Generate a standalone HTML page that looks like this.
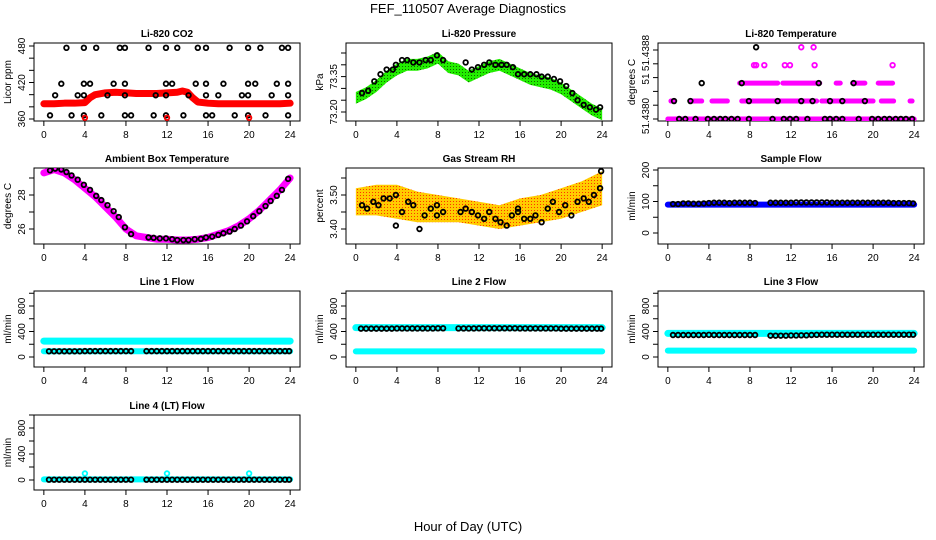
<!DOCTYPE html>
<html><head><meta charset="utf-8"><style>
html,body{margin:0;padding:0;background:#fff}
svg{display:block;font-family:"Liberation Sans",Arial,sans-serif}
</style></head><body>
<svg id="chart" width="936" height="540" viewBox="0 0 936 540">
<defs>
<pattern id="rhpat" width="3" height="3" patternUnits="userSpaceOnUse"><rect width="3" height="3" fill="#ffcc00"/><rect width="1" height="1" fill="#ff3300"/></pattern>
<pattern id="grpat" width="3" height="3" patternUnits="userSpaceOnUse"><rect width="3" height="3" fill="#22ee00"/><rect width="1" height="1" fill="#116600"/></pattern>
</defs>
<text x="468" y="13" text-anchor="middle" font-size="13">FEF_110507  Average Diagnostics</text>
<text x="468" y="531" text-anchor="middle" font-size="13">Hour of Day (UTC)</text>
</svg>
<script>
// ---- data ----
const xTicks=[0,4,8,12,16,20,24];
const co2BandX=[0,1,2,3,4,4.5,5,6,7,8,9,10,11,12,13,13.5,14,14.5,15,16,17,18,19,20,21,22,23,24];
const co2BandY=[385,385,386,386,387,395,400,403,404,403,402,402,402,403,404,406,404,395,388,386,385,385,385,385,385,385,385,386];
const co2CircX=[2.2,3.9,5.1,7.4,7.9,10.2,11.9,13,15,15.8,18.1,19.9,21.1,23.2,23.8,1.7,3.9,4.5,6.8,7.9,11.9,12.5,14.8,15.8,17.5,19.9,20.6,22.7,23.8,1.1,3.3,3.9,6.2,7.9,10.9,11.9,14.1,15.8,17,19.3,19.9,22.2,23.8,0.6,2.7,3.9,5.6,7.9,8.5,10.7,11.9,13.6,15.8,16.4,18.6,19.9,21.6,23.8];
const co2CircY=[477,477,477,477,477,477,477,477,477,477,477,477,477,477,477,418,418,418,418,418,418,418,418,418,418,418,418,418,418,399,399,399,399,399,399,399,399,399,399,399,399,399,399,366,366,366,366,366,366,366,366,366,366,366,366,366,366,366];
const co2RedX=[4,12,20];
const co2RedY=[362,362,362];

const presBandX=[0,1,2,3,4,5,6,7,8,9,10,11,12,13,14,15,16,17,18,19,20,21,22,23,24];
const presBandY=[73.26,73.28,73.31,73.35,73.38,73.40,73.40,73.41,73.43,73.39,73.38,73.35,73.37,73.39,73.40,73.38,73.36,73.34,73.33,73.32,73.30,73.27,73.24,73.21,73.19];
const presCircX=[0.6,1.2,1.8,2.4,3,3.6,3.9,4.5,5,5.6,6.2,6.8,7.3,7.9,8.5,10.7,11.3,11.9,12.5,13,13.6,14.2,14.7,15.3,15.8,16.4,17,17.6,18.1,18.7,19.3,19.9,20.5,21.1,21.6,22.2,22.8,23.4,23.8];
const presCircY=[73.28,73.29,73.33,73.36,73.38,73.38,73.40,73.42,73.42,73.41,73.41,73.42,73.42,73.44,73.42,73.41,73.38,73.39,73.40,73.41,73.40,73.40,73.40,73.39,73.36,73.36,73.36,73.36,73.35,73.35,73.34,73.33,73.31,73.28,73.25,73.23,73.22,73.21,73.22];

const tempLevels=[51.4380,51.43826,51.43852,51.43878,51.43904];
const tempPinkSegStart=[0,0.3,2.2,4.3,7.2,15,20.8,23.6,7,11.2,16.4,18,20.5];
const tempPinkSegEnd=[24,0.6,3.3,5.8,14.5,20,22,23.8,10.7,14.8,16.8,19.2,21.9];
const tempPinkSegLevel=[0,1,1,1,1,1,1,1,2,2,2,2,2];
const tempPinkPtX=[8.4,8.6,9.4,11.4,11.9,14.3,21.9,13,14.2];
const tempPinkPtLevel=[3,3,3,3,3,3,3,4,4];
const tempBlackX=[1.1,1.7,2.7,3.9,4.5,5.1,5.6,6.2,6.8,7.9,10.2,11.3,11.9,12.5,13.6,15.3,15.8,16.4,17,18.6,19.9,20.5,21.1,21.6,22.2,22.7,23.2,23.8,0.6,2.2,7.9,10.7,13,14.1,15.8,17,19.2,3.3,7.2,14.7,18.1,8.6];
const tempBlackLevel=[0,0,0,0,0,0,0,0,0,0,0,0,0,0,0,0,0,0,0,0,0,0,0,0,0,0,0,0,1,1,1,1,1,1,1,1,1,2,2,2,2,4];

const ambX=[0,1,2,3,4,5,6,7,8,9,10,11,12,13,14,15,16,17,18,19,20,21,22,23,24];
const ambY=[29.3,29.5,29.3,28.9,28.4,27.9,27.3,26.7,26.0,25.6,25.5,25.4,25.4,25.35,25.35,25.4,25.5,25.7,25.9,26.2,26.6,27.1,27.7,28.3,29.0];
const ambCircX=[0.6,1.1,1.7,2.2,2.7,3.3,3.9,4.5,5.1,5.6,6.2,6.8,7.3,7.9,8.5,10.2,10.7,11.3,11.9,12.5,13,13.6,14.1,14.7,15.3,15.8,16.4,17,17.5,18.1,18.6,19.2,19.8,20.4,21,21.6,22.1,22.7,23.2,23.8];
const ambCircY=[29.45,29.55,29.5,29.35,29.15,28.9,28.6,28.3,27.95,27.7,27.4,27.05,26.7,26.1,25.7,25.5,25.48,25.45,25.45,25.4,25.35,25.35,25.35,25.4,25.42,25.5,25.55,25.65,25.75,25.85,26,26.2,26.45,26.75,27.05,27.35,27.65,27.95,28.3,28.95];

const rhX=[0,2,4,6,8,10,12,14,16,18,20,22,24];
const rhLow=[3.44,3.44,3.43,3.42,3.42,3.42,3.41,3.40,3.41,3.42,3.43,3.45,3.47];
const rhHigh=[3.52,3.53,3.53,3.51,3.50,3.49,3.48,3.47,3.49,3.50,3.52,3.54,3.57];
const rhCircX=[0.6,1.1,1.7,2.2,2.7,3.3,3.9,3.9,4.5,5.1,5.6,6.2,6.7,7.3,7.9,7.9,8.5,10.2,10.7,11.3,11.9,12.5,13,13.6,14.1,14.7,15.2,15.8,15.8,16.4,17,17.5,18.1,18.7,19.2,19.8,20.4,21,21.6,22.2,22.7,23.2,23.8,23.9];
const rhCircY=[3.47,3.46,3.48,3.47,3.49,3.49,3.50,3.41,3.45,3.48,3.47,3.40,3.44,3.46,3.47,3.44,3.45,3.45,3.46,3.45,3.44,3.43,3.45,3.43,3.42,3.41,3.44,3.46,3.45,3.43,3.43,3.44,3.42,3.46,3.48,3.45,3.47,3.44,3.48,3.49,3.48,3.50,3.52,3.57];

const flowHours=[0.5,1,1.5,2,2.5,3,3.5,4,4.5,5,5.5,6,6.5,7,7.5,8,8.5,10,10.5,11,11.5,12,12.5,13,13.5,14,14.5,15,15.5,16,16.5,17,17.5,18,18.5,19,19.5,20,20.5,21,21.5,22,22.5,23,23.5,23.9];
const sampleCirc=[92,92,94,94,93,93,94,95,96,96,96,95,96,96,96,96,95,96,96,96,96,96,97,97,97,97,97,97,97,96,96,96,96,96,96,96,96,96,96,96,96,95,95,95,95,94];
const line1Circ=[90,90,90,90,90,90,90,92,92,92,92,92,92,92,92,92,92,92,92,92,92,92,92,92,92,92,92,92,92,92,92,92,92,92,92,92,92,92,92,92,92,92,92,92,92,92];
const line2Circ=[445,445,445,445,445,445,445,448,448,448,448,448,448,448,448,450,450,448,448,448,448,450,450,450,450,450,450,450,450,448,448,448,448,448,448,448,448,445,445,445,445,445,445,445,445,445];
const line3Circ=[345,345,345,345,345,345,345,348,345,345,345,345,345,345,345,345,345,335,335,335,335,338,338,340,340,345,348,350,350,350,350,350,350,350,350,350,350,350,350,350,350,350,350,350,350,350];
const line4Circ=[5,5,5,5,5,5,5,5,5,5,5,5,5,5,5,5,5,5,5,5,5,5,5,5,5,5,5,5,5,5,5,5,5,5,5,5,5,5,5,5,5,5,5,5,5,5];
const bandX=[0,24];
const sampleBand=[90,90];
const line1BandA=[250,250];
const line1BandB=[90,90];
const line2BandA=[460,460];
const line2BandB=[88,88];
const line3BandA=[370,370];
const line3BandB=[100,100];
const line4Band=[10,10];
const line4SpikeX=[4,12,20];
const line4SpikeY=[100,100,100];

// ---- drawing ----
const svg=document.getElementById('chart');
const NS='http://www.w3.org/2000/svg';
function mk(tag,attrs,parent){const e=document.createElementNS(NS,tag);for(const k in attrs)e.setAttribute(k,attrs[k]);(parent||svg).appendChild(e);return e;}
const colL=[34,346,658], rowT=[43,168,291,415], rowB=[121,244,367,490], W=266;
function panel(name,col,row,title,ylab,y0v,y0p,y1v,y1p,ticks,labels){
  const g=mk('g',{});
  
  
  const L=colL[col],T=rowT[row],B=rowB[row];
  const xs=h=>L+(h+0.96)*W/25.92;
  const ys=v=>y0p+(v-y0v)*(y1p-y0p)/(y1v-y0v);
  const t=mk('text',{x:L+W/2,y:T-6,'text-anchor':'middle','font-size':10,'font-weight':'bold'},g);t.textContent=title;
  
  
  const box=mk('rect',{x:L,y:T,width:W,height:B-T,fill:'none',stroke:'#000','stroke-width':1},g);
  
  
  const ax=mk('g',{stroke:'#000','stroke-width':1},g);
  
  
  xTicks.forEach(h=>{mk('line',{x1:xs(h),x2:xs(h),y1:B,y2:B+5},ax);
    const tl=mk('text',{x:xs(h),y:B+17,'text-anchor':'middle','font-size':10,stroke:'none'},ax);tl.textContent=h;});
  const ay=mk('g',{stroke:'#000','stroke-width':1},g);
  
  
  ticks.forEach(v=>mk('line',{x1:L-5,x2:L,y1:ys(v),y2:ys(v)},ay));
  labels.forEach(l=>{const yy=l.p!==undefined?l.p:ys(l.v);const tl=mk('text',{x:0,y:0,'text-anchor':'middle','font-size':10,stroke:'none',transform:`translate(${L-9},${yy}) rotate(-90)`},ay);tl.textContent=l.t;});
  const yl=mk('text',{x:0,y:0,'text-anchor':'middle','font-size':10,transform:`translate(${L-23},${(T+B)/2}) rotate(-90)`},g);yl.textContent=ylab;
  
  
  const clipId='c'+name;const cp=mk('clipPath',{id:clipId},g);mk('rect',{x:L,y:T,width:W,height:B-T},cp);
  const d=mk('g',{'clip-path':`url(#${clipId})`},g);
  
  
  return {xs,ys,d};
}
function band(p,X,Y,color,w,nm){const pts=X.map((x,i)=>p.xs(x)+','+p.ys(Y[i])).join(' ');
  const e=mk('polyline',{points:pts,fill:'none',stroke:color,'stroke-width':w,'stroke-linejoin':'round','stroke-linecap':'round'},p.d);
  
  }
function circles(p,X,Y,color,nm,sw){X.forEach((x,i)=>{const c=mk('circle',{cx:p.xs(x),cy:p.ys(Y[i]),r:2.3,fill:'none',stroke:color,'stroke-width':sw||1.8},p.d);
  
  });}
const rng=(a,b,s)=>{const r=[];for(let v=a;v<=b+1e-9;v+=s)r.push(+v.toFixed(4));return r;};

// CO2
let p=panel('co2',0,0,'Li-820 CO2','Licor ppm',360,119,480,46,rng(360,480,20),[{v:360,t:'360'},{v:420,t:'420'},{v:480,t:'480'}]);
band(p,co2BandX,co2BandY,'#ff0000',7,'co2-band');
circles(p,co2CircX,co2CircY,'#000','co2-point');
circles(p,co2RedX,co2RedY,'#ff0000','co2-red-point');
// Pressure
p=panel('pressure',1,0,'Li-820 Pressure','kPa',73.20,112,73.45,53,rng(73.20,73.45,0.05),[{v:73.20,t:'73.20'},{v:73.35,t:'73.35'}]);
(function(){const pts=presBandX.map((x,i)=>p.xs(x)+','+p.ys(presBandY[i]+0.025)).concat(presBandX.slice().reverse().map((x,j)=>{const i=presBandX.length-1-j;return p.xs(x)+','+p.ys(presBandY[i]-0.025);})).join(' ');
 const e=mk('polygon',{points:pts,fill:'url(#grpat)'},p.d);
 
 })();
circles(p,presCircX,presCircY,'#000','pressure-point');
// Temperature
p=panel('li820-temp',2,0,'Li-820 Temperature','degrees C',51.4380,119,51.4390,50,rng(51.4380,51.4390,0.0002),[{p:116,t:'51.4380'},{p:79,t:'51'},{p:53,t:'51.4388'}]);
tempPinkSegStart.forEach((s,i)=>{const y=p.ys(tempLevels[tempPinkSegLevel[i]]);const e=mk('line',{x1:p.xs(s),x2:p.xs(tempPinkSegEnd[i]),y1:y,y2:y,stroke:'#ff00ff','stroke-width':5,'stroke-linecap':'round'},p.d);
  
  });
circles(p,tempPinkPtX,tempPinkPtX.map((x,i)=>tempLevels[tempPinkPtLevel[i]]),'#ff00ff','temp-pink-point');
circles(p,tempBlackX,tempBlackX.map((x,i)=>tempLevels[tempBlackLevel[i]]),'#000','temp-point');
// Ambient
p=panel('ambient',0,1,'Ambient Box Temperature','degrees C',26,229,28,195,[26,27,28,29],[{v:26,t:'26'},{v:28,t:'28'}]);
band(p,ambX,ambY,'#ff00ff',7,'ambient-band');
circles(p,ambCircX,ambCircY,'#000','ambient-point');
// RH
p=panel('rh',1,1,'Gas Stream RH','percent',3.40,229,3.50,195,[3.40,3.45,3.50,3.55],[{v:3.40,t:'3.40'},{v:3.50,t:'3.50'}]);
(function(){const pts=rhX.map((x,i)=>p.xs(x)+','+p.ys(rhHigh[i])).concat(rhX.slice().reverse().map((x,j)=>{const i=rhX.length-1-j;return p.xs(x)+','+p.ys(rhLow[i]);})).join(' ');
 const e=mk('polygon',{points:pts,fill:'url(#rhpat)'},p.d);
 
 })();
circles(p,rhCircX,rhCircY,'#000','rh-point');
// Sample flow
p=panel('sample-flow',2,1,'Sample Flow','ml/min',0,233,200,170,[0,50,100,150,200],[{v:0,t:'0'},{v:100,t:'100'},{v:200,t:'200'}]);
band(p,bandX,sampleBand,'#0000ff',6,'sample-band');
circles(p,flowHours,sampleCirc,'#000','sample-point');
// Flow panels
const fticks=[0,200,400,600,800,1000], flab=[{v:0,t:'0'},{v:400,t:'400'},{v:800,t:'800'}];
p=panel('line1',0,2,'Line 1 Flow','ml/min',0,357,800,306,fticks,flab);
band(p,bandX,line1BandA,'#00ffff',7,'line1-band-a');band(p,bandX,line1BandB,'#00ffff',6,'line1-band-b');
circles(p,flowHours,line1Circ,'#000','line1-point');
p=panel('line2',1,2,'Line 2 Flow','ml/min',0,357,800,306,fticks,flab);
band(p,bandX,line2BandA,'#00ffff',7,'line2-band-a');band(p,bandX,line2BandB,'#00ffff',6,'line2-band-b');
circles(p,flowHours,line2Circ,'#000','line2-point');
p=panel('line3',2,2,'Line 3 Flow','ml/min',0,357,800,306,fticks,flab);
band(p,bandX,line3BandA,'#00ffff',7,'line3-band-a');band(p,bandX,line3BandB,'#00ffff',6,'line3-band-b');
circles(p,flowHours,line3Circ,'#000','line3-point');
p=panel('line4',0,3,'Line 4 (LT) Flow','ml/min',0,480,800,428,fticks,flab);
band(p,bandX,line4Band,'#00ffff',6,'line4-band');
circles(p,line4SpikeX,line4SpikeY,'#00ffff','line4-spike');
circles(p,flowHours,line4Circ,'#000','line4-point');
</script>
</body></html>
